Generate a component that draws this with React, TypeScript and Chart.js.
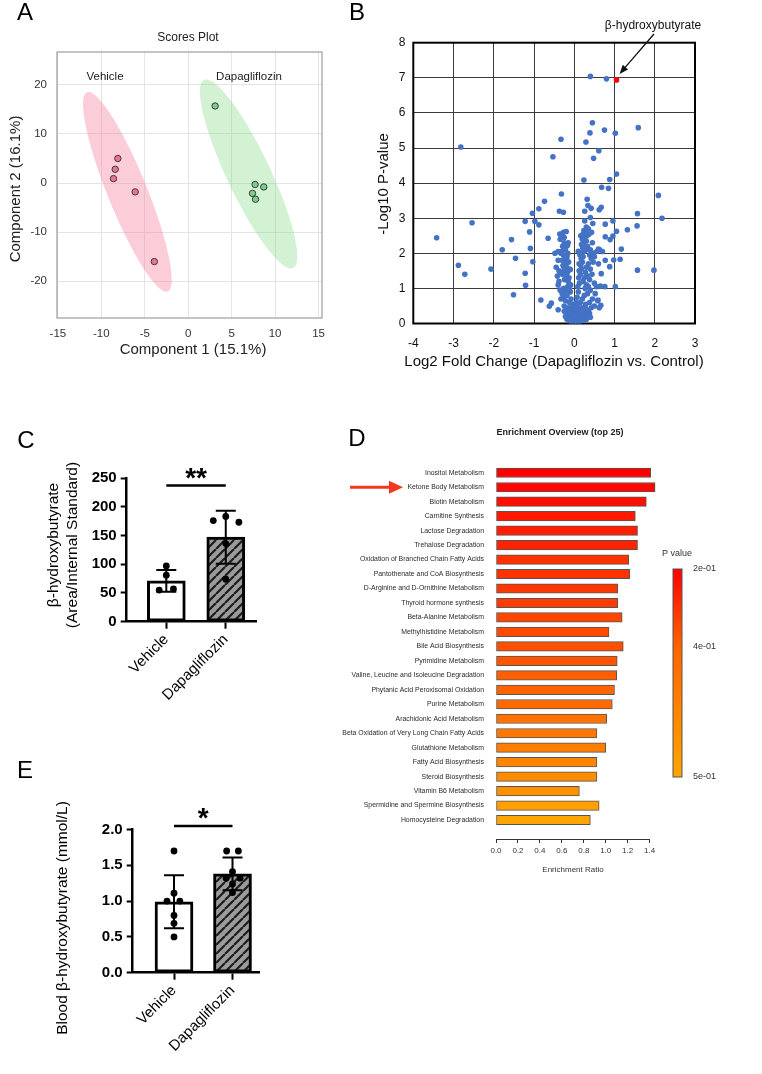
import React, { useEffect, useRef } from "react";
import { Chart, registerables } from "chart.js";

Chart.register(...registerables);

const PAGE_W = 762;
const PAGE_H = 1074;
const SANS = "'Liberation Sans', Arial, Helvetica, sans-serif";

// ---------- A: scores plot ----------
const vehiclePC1 = [-8.1, -8.4, -8.6, -6.1, -3.9];
const vehiclePC2 = [5.0, 2.8, 0.9, -1.8, -16.0];
const dapaPC1 = [3.1, 7.7, 8.7, 7.4, 7.75];
const dapaPC2 = [15.7, -0.3, -0.8, -2.1, -3.3];
// group confidence regions: centre, end of the long semi-axis, end of the short semi-axis
const vehicleRegion = { center: [-7.0, -1.8], major: [-11.65, 18.5], minor: [-4.9, -0.25] };
const dapaRegion = { center: [6.95, 1.85], major: [1.82, 21.0], minor: [9.2, 3.8] };
const scoresXTicks = [-15, -10, -5, 0, 5, 10, 15];
const scoresYTicks = [-20, -10, 0, 10, 20];

// ---------- B: volcano plot (log2 fold change, -log10 p) ----------
const volcanoPoints: [number, number][] = [
  [0.40, 7.04], [0.80, 6.97], [0.45, 5.72], [1.59, 5.58], [0.75, 5.51], [0.39, 5.43],
  [1.02, 5.42], [-0.33, 5.25], [0.29, 5.17], [-2.82, 5.03], [0.61, 4.92], [-0.53, 4.75],
  [0.48, 4.71], [1.05, 4.26], [0.24, 4.09], [0.88, 4.10], [0.68, 3.88], [0.85, 3.85],
  [2.09, 3.65], [-0.32, 3.69], [-0.74, 3.48], [0.32, 3.54], [0.34, 3.36], [0.42, 3.28],
  [-0.88, 3.27], [0.67, 3.31], [0.62, 3.24], [0.26, 3.20], [-0.37, 3.20], [-0.27, 3.17],
  [-1.04, 3.14], [1.57, 3.13], [2.18, 3.00], [0.40, 3.02], [-2.54, 2.87], [-1.22, 2.91],
  [-0.98, 2.91], [-0.88, 2.81], [0.26, 2.92], [0.46, 2.85], [0.96, 2.92], [0.77, 2.83],
  [1.56, 2.78], [1.32, 2.67], [1.05, 2.63], [-1.11, 2.61], [-3.42, 2.44], [-1.56, 2.39],
  [-0.65, 2.43], [0.77, 2.47], [0.89, 2.39], [0.96, 2.49], [1.17, 2.12], [-1.79, 2.10],
  [-1.09, 2.14], [-1.46, 1.86], [-1.03, 1.76], [1.14, 1.83], [0.98, 1.81], [0.77, 1.80],
  [-2.88, 1.66], [-2.07, 1.55], [1.57, 1.52], [1.98, 1.52], [0.88, 1.62], [-2.72, 1.40],
  [-1.22, 1.43], [-1.21, 1.09], [0.67, 1.42], [0.76, 1.05], [1.02, 1.05], [0.65, 1.07],
  [-1.51, 0.82], [-0.83, 0.67], [0.66, 0.52], [0.59, 0.67], [-0.62, 0.49], [-0.57, 0.58],
  [-0.40, 0.39], [0.36, 0.26], [-0.40, 2.05], [-0.48, 2.00], [-0.17, 2.22], [-0.16, 2.00],
  [0.10, 2.06], [0.60, 2.12], [0.48, 2.00], [-0.18, 1.79], [-0.40, 1.80], [-0.10, 1.53],
  // left arm of the central cluster
  [-0.05, 0.55], [-0.08, 0.70], [-0.10, 0.90], [-0.12, 1.00], [-0.09, 1.10], [-0.15, 1.20],
  [-0.13, 1.30], [-0.20, 1.35], [-0.17, 1.45], [-0.22, 1.50], [-0.19, 1.60], [-0.25, 1.55],
  [-0.21, 1.70], [-0.28, 1.65], [-0.24, 1.85], [-0.30, 1.80], [-0.27, 1.95], [-0.33, 2.00],
  [-0.22, 2.10], [-0.29, 2.20], [-0.25, 2.30], [-0.35, 2.40], [-0.31, 2.50], [-0.27, 2.60],
  [-0.20, 2.62], [-0.36, 2.55], [-0.18, 1.90], [-0.14, 1.75], [-0.11, 1.55], [-0.16, 1.05],
  [-0.24, 1.25], [-0.30, 1.40], [-0.35, 1.45], [-0.38, 1.50], [-0.40, 1.10], [-0.35, 0.95],
  [-0.30, 0.85], [-0.27, 0.75], [-0.22, 0.65], [-0.33, 0.70], [-0.26, 1.00], [-0.20, 0.95],
  [-0.18, 0.80], [-0.12, 0.60], [-0.15, 0.45], [-0.20, 0.40], [-0.10, 0.35], [-0.25, 0.50],
  [-0.30, 0.90], [-0.38, 1.20], [-0.42, 1.35], [-0.45, 1.60], [-0.22, 2.20], [-0.32, 2.05],
  [-0.25, 2.45], [-0.15, 2.30],
  // right arm of the central cluster
  [0.05, 0.60], [0.07, 0.75], [0.10, 0.90], [0.09, 1.05], [0.13, 1.15], [0.11, 1.30],
  [0.15, 1.40], [0.12, 1.50], [0.18, 1.55], [0.16, 1.65], [0.20, 1.75], [0.17, 1.85],
  [0.22, 1.90], [0.19, 2.00], [0.25, 2.05], [0.21, 2.15], [0.27, 2.20], [0.23, 2.30],
  [0.30, 2.35], [0.26, 2.45], [0.32, 2.50], [0.28, 2.60], [0.24, 2.65], [0.35, 2.70],
  [0.30, 2.75], [0.22, 2.55], [0.33, 2.20], [0.36, 2.10], [0.38, 1.95], [0.40, 2.10],
  [0.42, 1.85], [0.45, 2.00], [0.50, 1.90], [0.47, 1.75], [0.35, 1.70], [0.30, 1.60],
  [0.28, 1.45], [0.33, 1.35], [0.25, 1.30], [0.22, 1.20], [0.30, 1.10], [0.27, 1.00],
  [0.35, 1.05], [0.40, 0.95], [0.33, 0.85], [0.25, 0.80], [0.20, 0.70], [0.15, 0.60],
  [0.28, 0.55], [0.38, 0.60], [0.45, 0.70], [0.50, 0.50], [0.42, 0.45], [0.30, 0.40],
  [0.20, 0.45], [0.12, 1.70], [0.14, 1.95], [0.18, 2.25], [0.20, 2.40], [0.16, 2.50],
  [0.40, 1.55], [0.44, 1.40], [0.38, 1.25], [0.50, 1.15], [0.55, 1.05], [0.52, 0.85],
  [0.58, 0.65], [0.62, 0.45], [0.56, 2.05], [0.63, 2.10], [0.60, 1.70], [0.70, 2.05],
  [0.45, 2.30], [0.37, 2.55], [0.43, 2.60],
  // low-significance core
  [0.00, 0.02], [0.02, 0.08], [-0.03, 0.10], [0.05, 0.12], [-0.07, 0.15], [0.09, 0.18],
  [-0.12, 0.20], [0.13, 0.22], [-0.16, 0.25], [0.17, 0.15], [0.20, 0.28], [-0.05, 0.30],
  [0.06, 0.32], [0.10, 0.38], [-0.10, 0.42], [0.25, 0.20], [0.28, 0.30], [0.32, 0.22],
  [-0.18, 0.12], [0.15, 0.05], [-0.08, 0.05], [0.04, 0.25], [-0.14, 0.33], [0.22, 0.10],
  [0.35, 0.35], [-0.20, 0.30], [0.11, 0.45], [0.18, 0.36], [-0.02, 0.20], [0.07, 0.04],
  [0.30, 0.12], [-0.22, 0.20], [0.27, 0.45], [0.13, 0.30], [0.00, 0.40], [-0.11, 0.08],
  [0.23, 0.38], [0.38, 0.28], [0.40, 0.18], [-0.25, 0.35], [0.08, 0.50], [-0.04, 0.48],
];
const bhbPoint: [number, number] = [1.05, 6.94];
const volcanoXTicks = [-4, -3, -2, -1, 0, 1, 2, 3];
const volcanoYTicks = [0, 1, 2, 3, 4, 5, 6, 7, 8];

// ---------- C and E: group bars ----------
const groups = ["Vehicle", "Dapagliflozin"];

const lcmsMean = [71, 147];
const lcmsSD = [19, 46];
const lcmsVehicle = [97, 81, 55, 57];
const lcmsVehicleJitter = [0, 0, -0.12, 0.12];
const lcmsDapa = [176, 183, 173, 136, 74];
const lcmsDapaJitter = [-0.21, 0, 0.22, 0, 0];
const lcmsTicks = [0, 50, 100, 150, 200, 250];

const bloodMean = [0.99, 1.38];
const bloodSD = [0.37, 0.23];
const bloodVehicle = [1.70, 1.11, 1.00, 1.00, 0.80, 0.69, 0.50];
const bloodVehicleJitter = [0, 0, -0.12, 0.1, 0, 0, 0];
const bloodDapa = [1.70, 1.70, 1.41, 1.32, 1.32, 1.24, 1.12];
const bloodDapaJitter = [-0.1, 0.1, 0, -0.11, 0.13, 0, 0];
const bloodTicks = [0, 0.5, 1.0, 1.5, 2.0];

// ---------- D: enrichment overview ----------
const pathways = [
  "Inositol Metabolism",
  "Ketone Body Metabolism",
  "Biotin Metabolism",
  "Carnitine Synthesis",
  "Lactose Degradation",
  "Trehalose Degradation",
  "Oxidation of Branched Chain Fatty Acids",
  "Pantothenate and CoA Biosynthesis",
  "D-Arginine and D-Ornithine Metabolism",
  "Thyroid hormone synthesis",
  "Beta-Alanine Metabolism",
  "Methylhistidine Metabolism",
  "Bile Acid Biosynthesis",
  "Pyrimidine Metabolism",
  "Valine, Leucine and Isoleucine Degradation",
  "Phytanic Acid Peroxisomal Oxidation",
  "Purine Metabolism",
  "Arachidonic Acid Metabolism",
  "Beta Oxidation of Very Long Chain Fatty Acids",
  "Glutathione Metabolism",
  "Fatty Acid Biosynthesis",
  "Steroid Biosynthesis",
  "Vitamin B6 Metabolism",
  "Spermidine and Spermine Biosynthesis",
  "Homocysteine Degradation",
];
const enrichmentRatio = [
  1.41, 1.45, 1.37, 1.27, 1.29, 1.29, 1.21, 1.22, 1.11, 1.11, 1.15, 1.03, 1.16,
  1.105, 1.10, 1.08, 1.06, 1.01, 0.92, 1.00, 0.92, 0.92, 0.76, 0.94, 0.86,
];
const pathwayP = [
  0.20, 0.21, 0.23, 0.25, 0.26, 0.27, 0.30, 0.30, 0.31, 0.32, 0.34, 0.35, 0.36,
  0.37, 0.39, 0.40, 0.41, 0.42, 0.43, 0.44, 0.45, 0.46, 0.47, 0.49, 0.50,
];
const ratioTicks = [0, 0.2, 0.4, 0.6, 0.8, 1.0, 1.2, 1.4];
const pLegendValues = [0.2, 0.4, 0.5];
const pLegendLabels = ["2e-01", "4e-01", "5e-01"];
const pLegendPos = [0, 0.375, 1];

// colour ramp of the P value legend (top red -> bottom orange)
const rampStops: [number, number[]][] = [
  [0, [255, 0, 0]],
  [0.375, [255, 100, 0]],
  [1, [255, 165, 0]],
];
function rampColor(f: number): string {
  const t = Math.max(0, Math.min(1, f));
  for (let i = 1; i < rampStops.length; i++) {
    const [f0, c0] = rampStops[i - 1];
    const [f1, c1] = rampStops[i];
    if (t <= f1) {
      const k = (t - f0) / (f1 - f0);
      const c = c0.map((v, j) => Math.round(v + (c1[j] - v) * k));
      return `rgb(${c[0]},${c[1]},${c[2]})`;
    }
  }
  const c = rampStops[rampStops.length - 1][1];
  return `rgb(${c[0]},${c[1]},${c[2]})`;
}
function pToFrac(p: number): number {
  if (p <= pLegendValues[0]) return 0;
  for (let i = 1; i < pLegendValues.length; i++) {
    if (p <= pLegendValues[i]) {
      const k = (p - pLegendValues[i - 1]) / (pLegendValues[i] - pLegendValues[i - 1]);
      return pLegendPos[i - 1] + k * (pLegendPos[i] - pLegendPos[i - 1]);
    }
  }
  return 1;
}

// ---------- shared helpers ----------
type Txt = {
  t: string;
  x: number;
  y: number;
  size: number;
  bold?: boolean;
  family?: string;
  color?: string;
  align?: CanvasTextAlign;
  base?: CanvasTextBaseline;
  rot?: number;
};

function drawTexts(ctx: CanvasRenderingContext2D, items: Txt[]) {
  for (const it of items) {
    ctx.save();
    ctx.translate(it.x, it.y);
    if (it.rot) ctx.rotate(it.rot);
    ctx.font = `${it.bold ? "bold " : ""}${it.size}px ${it.family ?? SANS}`;
    ctx.fillStyle = it.color ?? "#000";
    ctx.textAlign = it.align ?? "center";
    ctx.textBaseline = it.base ?? "middle";
    ctx.fillText(it.t, 0, 0);
    ctx.restore();
  }
}

function textPlugin(id: string, items: Txt[]) {
  return {
    id,
    afterDraw(chart: any) {
      drawTexts(chart.ctx, items);
    },
  };
}

function framePlugin(id: string, color: string, width: number) {
  return {
    id,
    beforeDatasetsDraw(chart: any) {
      const { ctx, chartArea: a } = chart;
      ctx.save();
      ctx.strokeStyle = color;
      ctx.lineWidth = width;
      ctx.strokeRect(a.left, a.top, a.right - a.left, a.bottom - a.top);
      ctx.restore();
    },
  };
}

const baseOptions = {
  responsive: false,
  animation: false as const,
  events: [] as any[],
  plugins: {
    legend: { display: false },
    tooltip: { enabled: false },
    title: { display: false },
  },
};

const fixedTicks = (values: number[]) => (scale: any) => {
  scale.ticks = values.map((value) => ({ value }));
};

function hatchFill(): CanvasPattern | string {
  const s = 9;
  const c = document.createElement("canvas");
  c.width = s;
  c.height = s;
  const g = c.getContext("2d");
  if (!g) return "#999";
  g.fillStyle = "#9b9b9b";
  g.fillRect(0, 0, s, s);
  g.strokeStyle = "#1c1c1c";
  g.lineWidth = 2.2;
  g.beginPath();
  for (const o of [-s, 0, s]) {
    g.moveTo(o, s);
    g.lineTo(o + s, 0);
  }
  g.stroke();
  return g.createPattern(c, "repeat") ?? "#999";
}

// ---------- A ----------
function makeScores(canvas: HTMLCanvasElement) {
  const L = 57, T = 52, R = 322, B = 318, YW = 57, XH = 40;
  const regions = {
    id: "groupRegions",
    beforeDatasetsDraw(chart: any) {
      const { ctx, chartArea: a, scales } = chart;
      const defs: [typeof vehicleRegion, string][] = [
        [vehicleRegion, "rgba(245,130,160,0.40)"],
        [dapaRegion, "rgba(130,215,130,0.35)"],
      ];
      ctx.save();
      ctx.beginPath();
      ctx.rect(a.left, a.top, a.right - a.left, a.bottom - a.top);
      ctx.clip();
      for (const [r, fill] of defs) {
        const [cx, cy] = r.center;
        const ux = r.major[0] - cx, uy = r.major[1] - cy;
        const vx = r.minor[0] - cx, vy = r.minor[1] - cy;
        ctx.beginPath();
        for (let i = 0; i <= 120; i++) {
          const t = (i / 120) * Math.PI * 2;
          const x = cx + Math.cos(t) * ux + Math.sin(t) * vx;
          const y = cy + Math.cos(t) * uy + Math.sin(t) * vy;
          const px = scales.x.getPixelForValue(x);
          const py = scales.y.getPixelForValue(y);
          if (i === 0) ctx.moveTo(px, py);
          else ctx.lineTo(px, py);
        }
        ctx.closePath();
        ctx.fillStyle = fill;
        ctx.fill();
      }
      ctx.restore();
    },
  };
  return new Chart(canvas, {
    type: "scatter",
    data: {
      datasets: [
        {
          data: vehiclePC1.map((x, i) => ({ x, y: vehiclePC2[i] })),
          backgroundColor: "#EE7393",
          borderColor: "#3a3a3a",
          borderWidth: 1,
          pointRadius: 3.2,
        },
        {
          data: dapaPC1.map((x, i) => ({ x, y: dapaPC2[i] })),
          backgroundColor: "#79D08B",
          borderColor: "#3a3a3a",
          borderWidth: 1,
          pointRadius: 3.2,
        },
      ],
    },
    options: {
      ...baseOptions,
      layout: { padding: { left: L - YW, top: T, right: PAGE_W - R, bottom: PAGE_H - B - XH } },
      scales: {
        x: {
          type: "linear",
          min: -15.1,
          max: 15.4,
          afterBuildTicks: fixedTicks(scoresXTicks),
          afterFit: (s: any) => { s.height = XH; },
          grid: { color: "#E4E4E4", drawTicks: false },
          border: { display: false },
          ticks: { padding: 9, color: "#333", font: { family: SANS, size: 11.5 } },
        },
        y: {
          type: "linear",
          min: -27.5,
          max: 26.7,
          afterBuildTicks: fixedTicks(scoresYTicks),
          afterFit: (s: any) => { s.width = YW; },
          grid: { color: "#E4E4E4", drawTicks: false },
          border: { display: false },
          ticks: { padding: 10, color: "#333", font: { family: SANS, size: 11.5 } },
        },
      },
    } as any,
    plugins: [
      regions,
      framePlugin("scoresFrame", "#8a8a8a", 1),
      textPlugin("scoresText", [
        { t: "A", x: 25, y: 20, size: 24, base: "alphabetic" },
        { t: "Scores Plot", x: 188, y: 38, size: 12, color: "#222" },
        { t: "Vehicle", x: 105, y: 77, size: 11.5, color: "#222" },
        { t: "Dapagliflozin", x: 249, y: 77, size: 11.5, color: "#222" },
        { t: "Component 2 (16.1%)", x: 16, y: 189, size: 15, rot: -Math.PI / 2, color: "#222" },
        { t: "Component 1 (15.1%)", x: 193, y: 350, size: 15, color: "#222" },
      ]),
    ],
  });
}

// ---------- B ----------
function makeVolcano(canvas: HTMLCanvasElement) {
  const L = 413.3, T = 42.7, R = 695, B = 323.5, YW = 50, XH = 40;
  const arrow = {
    id: "bhbArrow",
    afterDraw(chart: any) {
      const { ctx, scales } = chart;
      const tipX = scales.x.getPixelForValue(bhbPoint[0]) + 3;
      const tipY = scales.y.getPixelForValue(bhbPoint[1]) - 6;
      const sx = 654, sy = 34;
      const ang = Math.atan2(tipY - sy, tipX - sx);
      ctx.save();
      ctx.strokeStyle = "#111";
      ctx.fillStyle = "#111";
      ctx.lineWidth = 1.3;
      ctx.beginPath();
      ctx.moveTo(sx, sy);
      ctx.lineTo(tipX - 6 * Math.cos(ang), tipY - 6 * Math.sin(ang));
      ctx.stroke();
      ctx.beginPath();
      ctx.moveTo(tipX, tipY);
      ctx.lineTo(tipX - 9 * Math.cos(ang) + 3.5 * Math.sin(ang), tipY - 9 * Math.sin(ang) - 3.5 * Math.cos(ang));
      ctx.lineTo(tipX - 9 * Math.cos(ang) - 3.5 * Math.sin(ang), tipY - 9 * Math.sin(ang) + 3.5 * Math.cos(ang));
      ctx.closePath();
      ctx.fill();
      ctx.restore();
    },
  };
  return new Chart(canvas, {
    type: "scatter",
    data: {
      datasets: [
        {
          data: volcanoPoints.map(([x, y]) => ({ x, y })),
          backgroundColor: "#4472C4",
          borderWidth: 0,
          pointRadius: 2.8,
        },
        {
          data: [{ x: bhbPoint[0], y: bhbPoint[1] }],
          backgroundColor: "#FF0000",
          borderWidth: 0,
          pointRadius: 2.8,
        },
      ],
    },
    options: {
      ...baseOptions,
      layout: { padding: { left: L - YW, top: T, right: PAGE_W - R, bottom: PAGE_H - B - XH } },
      scales: {
        x: {
          type: "linear",
          min: -4,
          max: 3,
          afterBuildTicks: fixedTicks(volcanoXTicks),
          afterFit: (s: any) => { s.height = XH; },
          grid: { color: "#3c3c3c", lineWidth: 1, drawTicks: false },
          border: { display: false },
          ticks: { padding: 13, color: "#111", font: { family: SANS, size: 12 } },
        },
        y: {
          type: "linear",
          min: 0,
          max: 8,
          afterBuildTicks: fixedTicks(volcanoYTicks),
          afterFit: (s: any) => { s.width = YW; },
          grid: { color: "#3c3c3c", lineWidth: 1, drawTicks: false },
          border: { display: false },
          ticks: { padding: 8, color: "#111", font: { family: SANS, size: 12 } },
        },
      },
    } as any,
    plugins: [
      framePlugin("volcanoFrame", "#000", 2),
      arrow,
      textPlugin("volcanoText", [
        { t: "B", x: 357, y: 20, size: 24, base: "alphabetic" },
        { t: "β-hydroxybutyrate", x: 653, y: 26, size: 12, color: "#111" },
        { t: "-Log10 P-value", x: 384, y: 184, size: 15, rot: -Math.PI / 2, color: "#111" },
        { t: "Log2 Fold Change (Dapagliflozin vs. Control)", x: 554, y: 362, size: 15, color: "#111" },
      ]),
    ],
  });
}

// ---------- C / E ----------
interface BarSpec {
  id: string;
  left: number;
  top: number;
  right: number;
  bottom: number;
  xMin: number;
  xMax: number;
  yMax: number;
  yTicks: number[];
  yDecimals: number;
  means: number[];
  sds: number[];
  vehicle: number[];
  vehicleJitter: number[];
  dapa: number[];
  dapaJitter: number[];
  sigLevel: number;
  sigMark: string;
  texts: Txt[];
}

function makeBarPanel(canvas: HTMLCanvasElement, s: BarSpec) {
  const YW = 80, XH = 100;
  const errorBars = {
    id: s.id + "Err",
    afterDatasetDraw(chart: any, args: any) {
      if (args.index !== 0) return;
      const { ctx, scales } = chart;
      ctx.save();
      ctx.strokeStyle = "#000";
      ctx.lineWidth = 2;
      s.means.forEach((m, i) => {
        const px = scales.x.getPixelForValue(i);
        const hi = scales.y.getPixelForValue(m + s.sds[i]);
        const lo = scales.y.getPixelForValue(m - s.sds[i]);
        ctx.beginPath();
        ctx.moveTo(px, hi);
        ctx.lineTo(px, lo);
        ctx.moveTo(px - 10, hi);
        ctx.lineTo(px + 10, hi);
        ctx.moveTo(px - 10, lo);
        ctx.lineTo(px + 10, lo);
        ctx.stroke();
      });
      ctx.restore();
    },
  };
  const significance = {
    id: s.id + "Sig",
    afterDraw(chart: any) {
      const { ctx, scales } = chart;
      const x0 = scales.x.getPixelForValue(0);
      const x1 = scales.x.getPixelForValue(1);
      const y = scales.y.getPixelForValue(s.sigLevel);
      ctx.save();
      ctx.strokeStyle = "#000";
      ctx.lineWidth = 2.5;
      ctx.beginPath();
      ctx.moveTo(x0, y);
      ctx.lineTo(x1, y);
      ctx.stroke();
      ctx.restore();
      drawTexts(ctx, [
        { t: s.sigMark, x: (x0 + x1) / 2, y: y + 1.5, size: 28, bold: true, base: "alphabetic" },
      ]);
    },
  };
  return new Chart(canvas, {
    type: "bar",
    data: {
      datasets: [
        {
          type: "bar",
          data: s.means.map((m, i) => ({ x: i, y: m })),
          backgroundColor: ["#ffffff", hatchFill()],
          borderColor: "#000",
          borderWidth: 3,
          borderSkipped: false,
          barThickness: 38,
          order: 2,
        },
        {
          type: "scatter",
          data: s.vehicle.map((v, i) => ({ x: 0 + s.vehicleJitter[i], y: v })),
          backgroundColor: "#000",
          borderWidth: 0,
          pointRadius: 3.4,
          order: 1,
        },
        {
          type: "scatter",
          data: s.dapa.map((v, i) => ({ x: 1 + s.dapaJitter[i], y: v })),
          backgroundColor: "#000",
          borderWidth: 0,
          pointRadius: 3.4,
          order: 1,
        },
      ],
    } as any,
    options: {
      ...baseOptions,
      layout: { padding: { left: s.left - YW, top: s.top, right: PAGE_W - s.right, bottom: PAGE_H - s.bottom - XH } },
      scales: {
        x: {
          type: "linear",
          min: s.xMin,
          max: s.xMax,
          offset: false,
          afterBuildTicks: fixedTicks(groups.map((_, i) => i)),
          afterFit: (sc: any) => { sc.height = XH; },
          grid: { offset: false, drawOnChartArea: false, drawTicks: true, tickLength: 7, tickColor: "#000", tickWidth: 2 },
          border: { color: "#000", width: 2.5 },
          ticks: {
            callback: (v: any) => groups[v] ?? "",
            minRotation: 45,
            maxRotation: 45,
            autoSkip: false,
            padding: 2,
            color: "#000",
            font: { family: SANS, size: 15 },
          },
        },
        y: {
          type: "linear",
          min: 0,
          max: s.yMax,
          afterBuildTicks: fixedTicks(s.yTicks),
          afterFit: (sc: any) => { sc.width = YW; },
          grid: { drawOnChartArea: false, drawTicks: true, tickLength: 6, tickColor: "#000", tickWidth: 2 },
          border: { color: "#000", width: 2.5 },
          ticks: {
            callback: (v: any) => Number(v).toFixed(s.yDecimals),
            padding: 4,
            color: "#000",
            font: { family: SANS, size: 15, weight: "bold" },
          },
        },
      },
    } as any,
    plugins: [errorBars, significance, textPlugin(s.id + "Text", s.texts)],
  });
}

function makeLcms(canvas: HTMLCanvasElement) {
  return makeBarPanel(canvas, {
    id: "lcms",
    left: 126.7,
    top: 478,
    right: 256.7,
    bottom: 621.7,
    xMin: -0.666,
    xMax: 1.52,
    yMax: 250,
    yTicks: lcmsTicks,
    yDecimals: 0,
    means: lcmsMean,
    sds: lcmsSD,
    vehicle: lcmsVehicle,
    vehicleJitter: lcmsVehicleJitter,
    dapa: lcmsDapa,
    dapaJitter: lcmsDapaJitter,
    sigLevel: 237,
    sigMark: "**",
    texts: [
      { t: "C", x: 26, y: 448, size: 24, base: "alphabetic" },
      { t: "β-hydroxybutyrate", x: 54, y: 545, size: 15.5, rot: -Math.PI / 2 },
      { t: "(Area/Internal Standard)", x: 73, y: 545, size: 15.5, rot: -Math.PI / 2 },
    ],
  });
}

function makeBlood(canvas: HTMLCanvasElement) {
  return makeBarPanel(canvas, {
    id: "blood",
    left: 132.7,
    top: 829.5,
    right: 260,
    bottom: 972.7,
    xMin: -0.706,
    xMax: 1.47,
    yMax: 2.0,
    yTicks: bloodTicks,
    yDecimals: 1,
    means: bloodMean,
    sds: bloodSD,
    vehicle: bloodVehicle,
    vehicleJitter: bloodVehicleJitter,
    dapa: bloodDapa,
    dapaJitter: bloodDapaJitter,
    sigLevel: 2.05,
    sigMark: "*",
    texts: [
      { t: "E", x: 25, y: 778, size: 24, base: "alphabetic" },
      { t: "Blood β-hydroxybutyrate (mmol/L)", x: 63, y: 918, size: 15.5, rot: -Math.PI / 2 },
    ],
  });
}

// ---------- D ----------
function makeEnrichment(canvas: HTMLCanvasElement) {
  const L = 496, T = 465.5, R = 649.6, B = 839, YW = 200, XH = 50;
  const legend = {
    id: "pLegend",
    afterDraw(chart: any) {
      const { ctx, scales } = chart;
      // colour bar
      const bx = 673, bw = 9, by = 569, bh = 208;
      const grad = ctx.createLinearGradient(0, by, 0, by + bh);
      for (let i = 0; i <= 20; i++) grad.addColorStop(i / 20, rampColor(i / 20));
      ctx.save();
      ctx.fillStyle = grad;
      ctx.fillRect(bx, by, bw, bh);
      ctx.strokeStyle = "#555";
      ctx.lineWidth = 1;
      ctx.strokeRect(bx, by, bw, bh);
      ctx.restore();
      const items: Txt[] = [
        { t: "P value", x: 677, y: 554, size: 9, color: "#333" },
      ];
      pLegendLabels.forEach((lab, i) => {
        items.push({ t: lab, x: 693, y: by + pLegendPos[i] * bh, size: 9, color: "#333", align: "left" });
      });
      drawTexts(ctx, items);
      // highlight arrow on the ketone body row
      const ky = scales.y.getPixelForValue(pathways.indexOf("Ketone Body Metabolism"));
      ctx.save();
      ctx.strokeStyle = "#F4361E";
      ctx.fillStyle = "#F4361E";
      ctx.lineWidth = 3;
      ctx.beginPath();
      ctx.moveTo(350, ky);
      ctx.lineTo(391, ky);
      ctx.stroke();
      ctx.beginPath();
      ctx.moveTo(389, ky - 6.5);
      ctx.lineTo(403, ky);
      ctx.lineTo(389, ky + 6.5);
      ctx.closePath();
      ctx.fill();
      ctx.restore();
    },
  };
  return new Chart(canvas, {
    type: "bar",
    data: {
      datasets: [
        {
          data: enrichmentRatio.map((v, i) => ({ x: v, y: i })),
          backgroundColor: pathwayP.map((p) => rampColor(pToFrac(p))),
          borderColor: "#555",
          borderWidth: 1,
          borderSkipped: false,
          barThickness: 9.5,
          clip: false,
        },
      ],
    } as any,
    options: {
      ...baseOptions,
      indexAxis: "y",
      layout: { padding: { left: L - YW, top: T, right: PAGE_W - R, bottom: PAGE_H - B - XH } },
      scales: {
        y: {
          type: "linear",
          reverse: true,
          min: -0.5,
          max: 25.31,
          offset: false,
          afterBuildTicks: fixedTicks(pathways.map((_, i) => i)),
          afterFit: (s: any) => { s.width = YW; },
          grid: { display: false, drawTicks: false, offset: false },
          border: { display: false },
          ticks: {
            autoSkip: false,
            callback: (v: any) => pathways[v] ?? "",
            padding: 12,
            color: "#2a2a2a",
            font: { family: SANS, size: 6.9 },
          },
        },
        x: {
          type: "linear",
          min: 0,
          max: 1.4,
          afterBuildTicks: fixedTicks(ratioTicks),
          afterFit: (s: any) => { s.height = XH; },
          grid: { drawOnChartArea: false, drawTicks: true, tickLength: 4, tickColor: "#333", tickWidth: 1 },
          border: { color: "#333", width: 1 },
          ticks: {
            callback: (v: any) => Number(v).toFixed(1),
            padding: 3,
            color: "#333",
            font: { family: SANS, size: 8 },
          },
        },
      },
    } as any,
    plugins: [
      legend,
      textPlugin("enrichText", [
        { t: "D", x: 357, y: 446, size: 24, base: "alphabetic" },
        { t: "Enrichment Overview (top 25)", x: 560, y: 433, size: 9, bold: true, color: "#222" },
        { t: "Enrichment Ratio", x: 573, y: 870, size: 8, color: "#333" },
      ]),
    ],
  });
}

// ---------- components ----------
function ChartLayer({ make }: { make: (c: HTMLCanvasElement) => Chart }) {
  const ref = useRef<HTMLCanvasElement>(null);
  useEffect(() => {
    if (!ref.current) return;
    const chart = make(ref.current);
    return () => chart.destroy();
  }, [make]);
  return (
    <canvas
      ref={ref}
      width={PAGE_W}
      height={PAGE_H}
      style={{ position: "absolute", left: 0, top: 0, width: PAGE_W, height: PAGE_H, pointerEvents: "none" }}
    />
  );
}

export default function App() {
  return (
    <div
      style={{
        position: "absolute",
        left: 0,
        top: 0,
        width: PAGE_W,
        height: PAGE_H,
        background: "#fff",
        overflow: "hidden",
      }}
    >
      <ChartLayer make={makeScores} />
      <ChartLayer make={makeVolcano} />
      <ChartLayer make={makeLcms} />
      <ChartLayer make={makeEnrichment} />
      <ChartLayer make={makeBlood} />
    </div>
  );
}
